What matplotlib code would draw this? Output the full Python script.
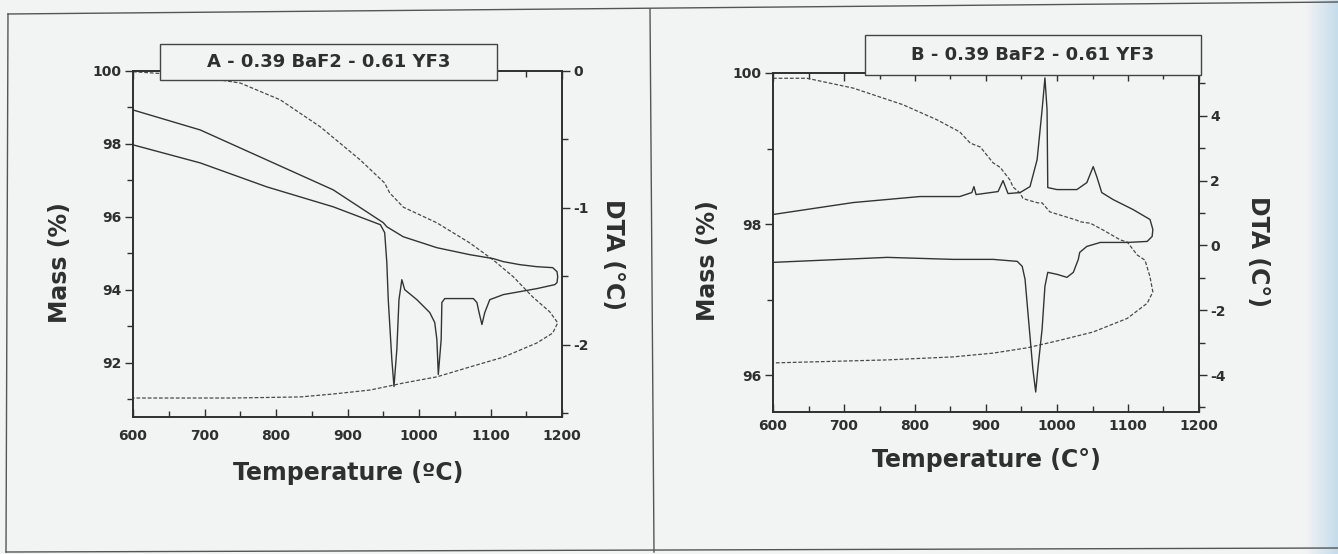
import numpy as np
import matplotlib
matplotlib.use('Agg')
import matplotlib.pyplot as plt
from matplotlib.patches import Rectangle
from matplotlib.lines import Line2D
from matplotlib.ticker import MultipleLocator

plt.rcParams['font.family'] = ['DejaVu Sans']
plt.rcParams['font.weight'] = 'bold'
plt.rcParams['axes.unicode_minus'] = False

INK = '#2f2f2f'
PAPER = '#f2f4f3'

# ---- panel A: 0.39 BaF2 - 0.61 YF3 (heating then cooling, one loop each) ----
a_tg_T = [600, 680, 750, 806, 862, 918, 952, 959, 978, 1025, 1071, 1104, 1132, 1159, 1183, 1194,
          1187, 1165, 1118, 1071, 1025, 978, 932, 880, 834, 740, 600]
a_tg_mass = [99.98, 99.88, 99.67, 99.21, 98.47, 97.56, 96.93, 96.66, 96.27, 95.84, 95.29, 94.82, 94.36, 93.81, 93.40, 93.10,
             92.82, 92.55, 92.16, 91.89, 91.62, 91.45, 91.26, 91.15, 91.07, 91.04, 91.04]

a_dta_T = [600, 694, 787, 880, 950, 955, 978, 1025, 1071, 1104, 1118, 1141, 1165, 1187, 1193, 1194, 1193, 1190,
           1165, 1118, 1099, 1092, 1088, 1084, 1081, 1076, 1036, 1032, 1031, 1027, 1025, 1022, 1015, 997, 980,
           976, 972, 969, 965, 962, 957, 955, 952, 946, 880, 787, 694, 600]
a_dta = [-0.285, -0.431, -0.650, -0.869, -1.109, -1.139, -1.212, -1.292, -1.343, -1.372, -1.394, -1.416, -1.431,
         -1.438, -1.467, -1.504, -1.547, -1.562,
         -1.591, -1.635, -1.672, -1.766, -1.854, -1.766, -1.693, -1.664, -1.664, -1.693, -1.964, -2.219, -1.964,
         -1.839, -1.766, -1.672, -1.599, -1.526, -1.672, -2.036, -2.307, -2.109, -1.672, -1.401, -1.182, -1.124,
         -0.993, -0.847, -0.672, -0.540]

# ---- panel B ----
b_tg_T = [600, 648, 713, 783, 831, 863, 878, 892, 910, 920, 934, 938, 948, 952, 958, 973, 979, 990, 1004, 1028,
          1032, 1047, 1065, 1089, 1099, 1113, 1124, 1131, 1135,
          1127, 1099, 1051, 1004, 958, 910, 854, 761, 600]
b_tg_mass = [99.93, 99.93, 99.80, 99.58, 99.38, 99.22, 99.07, 99.02, 98.81, 98.75, 98.58, 98.49, 98.41, 98.34, 98.32,
             98.28, 98.28, 98.16, 98.12, 98.05, 98.03, 98.01, 97.92, 97.79, 97.76, 97.59, 97.52, 97.30, 97.10,
             96.95, 96.75, 96.57, 96.46, 96.36, 96.29, 96.24, 96.20, 96.16]

b_dta_T = [600, 713, 807, 863, 880, 883, 886, 917, 924, 931, 948, 962, 972, 979, 983, 986, 987, 1000, 1028, 1042,
           1051, 1056, 1063, 1079, 1107, 1131, 1135, 1134, 1127,
           1099, 1061, 1042, 1032, 1030, 1023, 1014, 1000, 987, 983, 979, 973, 970, 966, 959, 955, 951, 944, 910,
           854, 761, 600]
b_dta = [0.954, 1.323, 1.508, 1.508, 1.631, 1.815, 1.569, 1.662, 2.0, 1.6, 1.631, 1.815, 2.646, 4.185, 5.169, 4.185,
         1.785, 1.723, 1.723, 1.938, 2.431, 2.123, 1.631, 1.415, 1.108, 0.8, 0.492, 0.277, 0.123,
         0.092, 0.092, -0.031, -0.215, -0.431, -0.831, -0.985, -0.892, -0.831, -1.262, -2.585, -3.815, -4.523,
         -3.815, -2.062, -1.046, -0.646, -0.492, -0.431, -0.431, -0.369, -0.523]

W, H = 1338, 554
fig = plt.figure(figsize=(W / 100, H / 100), dpi=100, facecolor=PAPER)


def fx(px):
    return px / W


def fy(py):
    return 1 - py / H


def style_axes(ax, ax2, xpad):
    for a in (ax, ax2):
        a.set_facecolor('none')
        for s in a.spines.values():
            s.set_color(INK)
            s.set_linewidth(1.2)
    ax.set_xlim(600, 1200)
    ax.xaxis.set_major_locator(MultipleLocator(100))
    ax.xaxis.set_minor_locator(MultipleLocator(50))
    ax.tick_params(axis='x', which='both', direction='in', top=True, colors=INK, labelsize=10, pad=xpad)
    ax.tick_params(axis='x', which='major', length=6, width=1)
    ax.tick_params(axis='x', which='minor', length=4, width=1)
    for a in (ax, ax2):
        a.tick_params(axis='y', which='both', direction='out', colors=INK, labelsize=10, pad=2, width=1)
        a.tick_params(axis='y', which='major', length=6)
        a.tick_params(axis='y', which='minor', length=4)


lab = dict(fontsize=17, fontweight='bold', color=INK)

# panel A
axA = fig.add_axes([fx(133), fy(417), fx(562 - 133), (417 - 71) / H])
axA2 = axA.twinx()
axA.plot(a_tg_T, a_tg_mass, color='#4a4a4a', lw=0.9, ls=(0, (3, 1.5)))
axA2.plot(a_dta_T, a_dta, color='#333333', lw=1.0)
axA.set_ylim(90.52, 100)
axA.yaxis.set_major_locator(MultipleLocator(2))
axA.yaxis.set_minor_locator(MultipleLocator(1))
axA2.set_ylim(-2.53, 0)
axA2.yaxis.set_major_locator(MultipleLocator(1))
axA2.yaxis.set_minor_locator(MultipleLocator(0.5))
style_axes(axA, axA2, 9)
axA.set_xlabel('Temperature (ºC)', va='center', **lab)
axA.xaxis.set_label_coords(0.501, -0.162)
axA.set_ylabel('Mass (%)', va='center', **lab)
axA.yaxis.set_label_coords(-0.170, 0.445)
axA2.set_ylabel('DTA (°C)', rotation=270, va='center', **lab)
axA2.yaxis.set_label_coords(1.119, 0.471)

# panel B
axB = fig.add_axes([fx(773), fy(412), fx(1199 - 773), (412 - 73) / H])
axB2 = axB.twinx()
axB.plot(b_tg_T, b_tg_mass, color='#4a4a4a', lw=0.9, ls=(0, (3, 1.5)))
axB2.plot(b_dta_T, b_dta, color='#333333', lw=1.0)
axB.set_ylim(95.51, 100)
axB.yaxis.set_major_locator(MultipleLocator(2))
axB.yaxis.set_minor_locator(MultipleLocator(1))
axB2.set_ylim(-5.14, 5.32)
axB2.yaxis.set_major_locator(MultipleLocator(2))
axB2.yaxis.set_minor_locator(MultipleLocator(1))
style_axes(axB, axB2, 5)
axB.set_xlabel('Temperature (C°)', va='center', **lab)
axB.xaxis.set_label_coords(0.502, -0.142)
axB.set_ylabel('Mass (%)', va='center', **lab)
axB.yaxis.set_label_coords(-0.153, 0.448)
axB2.set_ylabel('DTA (C°)', rotation=270, va='center', **lab)
axB2.yaxis.set_label_coords(1.138, 0.472)

# title boxes
for (x0, y0, x1, y1, txt) in [(160, 44, 497, 80, 'A - 0.39 BaF2 - 0.61 YF3'),
                              (865, 35, 1201, 75, 'B - 0.39 BaF2 - 0.61 YF3')]:
    fig.add_artist(Rectangle((fx(x0), fy(y1)), fx(x1 - x0), (y1 - y0) / H, transform=fig.transFigure,
                             facecolor=PAPER, edgecolor='#444444', lw=1.0, zorder=5))
    fig.text(fx((x0 + x1) / 2), fy((y0 + y1) / 2), txt, ha='center', va='center', fontsize=13,
             fontweight='bold', color=INK, zorder=6)

# scanned page frame and divider
frame = dict(color='#555555', lw=1.0, transform=fig.transFigure)
fig.add_artist(Line2D([fx(8), fx(1338)], [fy(14), fy(2)], **frame))
fig.add_artist(Line2D([fx(8), fx(6)], [fy(14), fy(552)], **frame))
fig.add_artist(Line2D([fx(6), fx(1338)], [fy(552), fy(548)], **frame))
fig.add_artist(Line2D([fx(650), fx(654)], [fy(9), fy(552)], **frame))

# bluish tint at the right edge of the scan
tint = fig.add_axes([fx(1305), 0, fx(33), 1])
tint.imshow(np.linspace(0, 1, 50)[None, :], cmap=matplotlib.colors.LinearSegmentedColormap.from_list(
    't', [PAPER, '#c4dcec']), aspect='auto', extent=(0, 1, 0, 1))
tint.axis('off')

fig.savefig('out.png', dpi=100, facecolor=PAPER)
